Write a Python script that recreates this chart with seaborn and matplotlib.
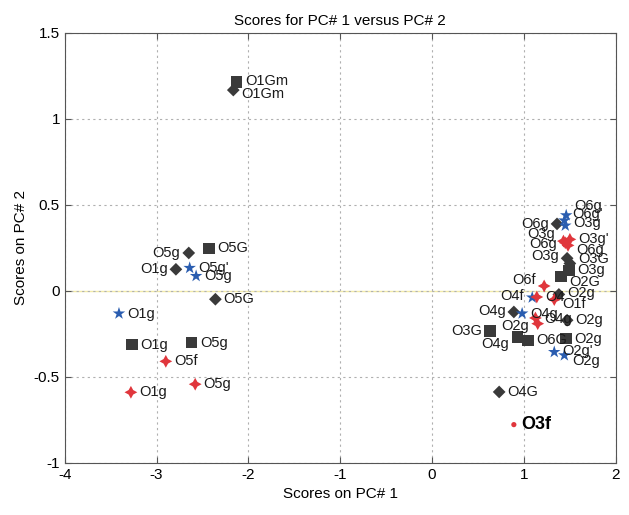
import pandas as pd
import seaborn as sns
import matplotlib.pyplot as plt

# scores
pc1 = [-2.13, -2.43, -3.27, -2.62, 1.49, 1.40, 0.63, 0.93, 1.045, 1.46,
       -2.165, -2.65, -2.79, -2.36, 1.36, 1.50, 1.47, 1.38, 0.89, 1.47, 0.73,
       -2.64, -2.57, -3.41, 1.46, 1.44, 1.45, 1.09, 0.98, 1.33, 1.44,
       -2.90, -2.58, -3.28, 1.50, 1.43, 1.45, 1.48, 1.22, 1.14, 1.33, 1.125, 1.15,
       0.89]
pc2 = [1.215, 0.247, -0.312, -0.30, 0.12, 0.085, -0.234, -0.267, -0.287, -0.277,
       1.168, 0.221, 0.126, -0.048, 0.39, 0.16, 0.19, -0.02, -0.122, -0.17, -0.587,
       0.134, 0.087, -0.131, 0.44, 0.41, 0.38, -0.038, -0.131, -0.355, -0.374,
       -0.409, -0.542, -0.589, 0.30, 0.29, 0.28, 0.265, 0.029, -0.035, -0.05, -0.157, -0.19,
       -0.777]
group = (["sq"] * 10 + ["dm"] * 11 + ["bl"] * 10 + ["rd"] * 12 + ["dot"])
names = ["O1Gm", "O5G", "O1g", "O5g", "O3g", "O2G", "O3G", "O4g", "O6G", "O2g",
         "O1Gm", "O5g", "O1g", "O5G", "O6g", "O3G", "O3g", "O2g", "O4g", "O2g", "O4G",
         "O5g'", "O5g", "O1g", "O6g", "O6g'", "O3g", "O4f", "O4g", "O2g'", "O2g",
         "O5f", "O5g", "O1g", "O3g'", "O3g", "O6g", "O6g", "O6f", "O4", "O1f", "O4g", "O2g",
         "O3f"]

# label placement: side of the marker and a small vertical nudge (points)
side = ["r", "r", "r", "r", "r", "r", "l", "l", "r", "r",
        "r", "l", "l", "r", "l", "r", "l", "r", "l", "r", "r",
        "r", "r", "r", "r", "r", "r", "l", "r", "r", "r",
        "r", "r", "r", "r", "l", "l", "r", "l", "r", "r", "r", "l",
        "r"]
nudge = [1, 0, 0, 0, 0, -4, 0, -5, 0, 0,
         -3, 0, 0, 0, 0, 3, 2, 1, 1, 0, 0,
         0, 0, 0, 7, 5, 2, 1, 0, 1, -4,
         0, 0, 0, 0, 5, -1, -3, 4, 0, -3, -1, -2,
         0]

df = pd.DataFrame({"pc1": pc1, "pc2": pc2, "group": group})

plt.rcParams["font.family"] = ["Liberation Sans", "DejaVu Sans"]
plt.rcParams["axes.unicode_minus"] = False

fig = plt.figure(figsize=(6.29, 5.15), dpi=100)
ax = fig.add_axes([0.103, 0.101, 0.876, 0.835])

ax.axhline(0, color="#f3eba8", lw=1, zorder=0)

sns.scatterplot(data=df, x="pc1", y="pc2", hue="group", style="group", size="group",
                palette={"sq": "#3a3a3a", "dm": "#3a3a3a", "bl": "#2a5db0",
                         "rd": "#e0363c", "dot": "#e0363c"},
                markers={"sq": "s", "dm": "D", "bl": "*", "rd": (4, 1, 0), "dot": "o"},
                sizes={"sq": 70, "dm": 42, "bl": 90, "rd": 85, "dot": 14},
                linewidth=0, legend=False, ax=ax, zorder=3)

for x, y, t, s, dy, g in zip(pc1, pc2, names, side, nudge, group):
    if g == "dot":
        ax.annotate(t, (x, y), xytext=(5, 0), textcoords="offset points",
                    ha="left", va="center", fontsize=13, fontweight="bold")
    elif s == "r":
        ax.annotate(t, (x, y), xytext=(6, dy), textcoords="offset points",
                    ha="left", va="center", fontsize=10.5, color="#1a1a1a")
    else:
        ax.annotate(t, (x, y), xytext=(-6, dy), textcoords="offset points",
                    ha="right", va="center", fontsize=10.5, color="#1a1a1a")

ax.set_xlim(-4, 2)
ax.set_ylim(-1, 1.5)
ax.set_xticks([-4, -3, -2, -1, 0, 1, 2])
ax.set_yticks([-1, -0.5, 0, 0.5, 1, 1.5])
ax.set_yticklabels(["-1", "-0.5", "0", "0.5", "1", "1.5"])
ax.tick_params(direction="in", top=True, right=True, labelsize=11, length=4, color="#555555")
ax.grid(True, linestyle=(0, (2, 3)), color="#b0b0b0", lw=0.8)
for sp in ax.spines.values():
    sp.set_color("#555555")
    sp.set_linewidth(0.8)

ax.set_xlabel("Scores on PC# 1", fontsize=11)
ax.set_ylabel("Scores on PC# 2", fontsize=11)
ax.set_title("Scores for PC# 1 versus PC# 2", fontsize=11)

fig.savefig("out.png", dpi=100)
